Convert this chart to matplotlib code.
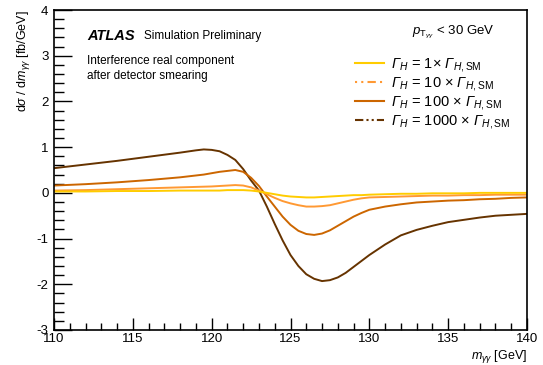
import matplotlib
matplotlib.use("Agg")
import matplotlib.pyplot as plt
from matplotlib.lines import Line2D
from matplotlib.ticker import MultipleLocator

plt.rcParams["font.family"] = ["Liberation Sans", "DejaVu Sans"]
plt.rcParams["mathtext.fontset"] = "custom"
plt.rcParams["mathtext.rm"] = "Liberation Sans"
plt.rcParams["mathtext.it"] = "Liberation Sans:italic"
plt.rcParams["mathtext.sf"] = "Liberation Sans:italic"   # italic Greek capitals via \mathsf
plt.rcParams["mathtext.bf"] = "Liberation Sans:bold"
plt.rcParams["axes.unicode_minus"] = False

# values
mass = [110, 112, 114, 116, 118, 119, 119.5, 120, 120.5, 121, 121.5, 122, 122.5,
        123, 123.5, 124, 124.5, 125, 125.5, 126, 126.5, 127, 127.5, 128, 128.5,
        129, 129.5, 130, 131, 132, 133, 134, 135, 136, 137, 138, 139, 140]

width_1 = [0.03, 0.03, 0.04, 0.04, 0.05, 0.05, 0.05, 0.05, 0.05, 0.06, 0.06, 0.06, 0.05,
           0.03, 0.00, -0.03, -0.06, -0.08, -0.09, -0.10, -0.10, -0.09, -0.08, -0.07, -0.06,
           -0.05, -0.05, -0.04, -0.03, -0.02, -0.02, -0.01, -0.01, -0.01, 0.0, 0.0, 0.0, 0.0]

width_10 = [0.05, 0.06, 0.08, 0.10, 0.12, 0.13, 0.135, 0.14, 0.15, 0.16, 0.17, 0.16, 0.12,
            0.05, -0.03, -0.11, -0.18, -0.23, -0.27, -0.30, -0.30, -0.29, -0.27, -0.23, -0.19,
            -0.15, -0.12, -0.10, -0.09, -0.08, -0.07, -0.06, -0.06, -0.05, -0.05, -0.04, -0.04, -0.04]

width_100 = [0.16, 0.19, 0.23, 0.28, 0.34, 0.38, 0.40, 0.43, 0.46, 0.48, 0.50, 0.46, 0.33,
             0.15, -0.08, -0.30, -0.52, -0.70, -0.83, -0.90, -0.92, -0.89, -0.82, -0.72, -0.62,
             -0.52, -0.44, -0.37, -0.30, -0.25, -0.21, -0.19, -0.17, -0.16, -0.14, -0.13, -0.11, -0.10]

width_1000 = [0.54, 0.62, 0.70, 0.79, 0.88, 0.93, 0.95, 0.94, 0.91, 0.83, 0.72, 0.52, 0.27,
              0.05, -0.30, -0.68, -1.04, -1.36, -1.60, -1.78, -1.88, -1.93, -1.91, -1.85, -1.75,
              -1.62, -1.49, -1.36, -1.13, -0.93, -0.81, -0.72, -0.64, -0.59, -0.54, -0.50, -0.48, -0.46]

factors = ["1", "10", "100", "1000"]
labels = [r"$\mathsf{Γ}_{\mathit{H}}$ = " + f + (r"$\times$ " if f == "1" else r" $\times$ ")
          + r"$\mathsf{Γ}_{\mathit{H},\mathrm{SM}}$" for f in factors]
colors = ["#ffcc00", "#ff9933", "#cc6600", "#663300"]
styles = ["-", (0, (1, 2, 1, 2, 4, 2)), "-", (0, (4, 1.5, 1, 1.5, 1, 1.5))]

fig = plt.figure(figsize=(5.43, 3.65), dpi=100)
ax = fig.add_axes([54 / 543, 35 / 365, 473 / 543, 320 / 365])

series = [width_1, width_10, width_100, width_1000]
for i in [3, 2, 1, 0]:
    ax.plot(mass, series[i], color=colors[i], lw=1.4, solid_joinstyle="round")

ax.set_xlim(110, 140)
ax.set_ylim(-3, 4)
ax.xaxis.set_major_locator(MultipleLocator(5))
ax.xaxis.set_minor_locator(MultipleLocator(1))
ax.yaxis.set_major_locator(MultipleLocator(1))
ax.yaxis.set_minor_locator(MultipleLocator(0.2))
ax.tick_params(which="both", direction="in", top=False, right=False, labelsize=9.5, width=1)
ax.tick_params(axis="y", which="major", length=13, pad=4)
ax.tick_params(axis="y", which="minor", length=7)
ax.tick_params(axis="x", which="major", length=9, pad=2)
ax.tick_params(axis="x", which="minor", length=5)
for s in ax.spines.values():
    s.set_linewidth(1.2)

ax.set_xlabel(r"$m_{\gamma\gamma}$ [GeV]", fontsize=9, loc="right", labelpad=2)
ax.set_ylabel(r"d$\sigma$ / d$m_{\gamma\gamma}$ [fb/GeV]", fontsize=9, loc="top", labelpad=3)

ax.text(0.07, 0.92, "ATLAS", transform=ax.transAxes, fontsize=10.5,
        fontweight="bold", fontstyle="italic", va="center")
ax.text(0.19, 0.92, "Simulation Preliminary", transform=ax.transAxes, fontsize=8.5, va="center")
ax.text(0.07, 0.84, "Interference real component", transform=ax.transAxes, fontsize=8.5, va="center")
ax.text(0.07, 0.795, "after detector smearing", transform=ax.transAxes, fontsize=8.5, va="center")
ax.text(0.932, 0.93, r"$p_{\mathrm{T}_{\gamma\gamma}}$ < 30 GeV", transform=ax.transAxes,
        fontsize=9.5, ha="right", va="center")

handles = [Line2D([], [], color=c, ls=s, lw=1.5) for c, s in zip(colors, styles)]
ax.legend(handles, labels, loc="upper left", bbox_to_anchor=(0.636, 0.855), frameon=False,
          fontsize=10.5, handlelength=2.0, handletextpad=0.5, labelspacing=0.05,
          borderaxespad=0, borderpad=0)

fig.savefig("out.png", dpi=100)
